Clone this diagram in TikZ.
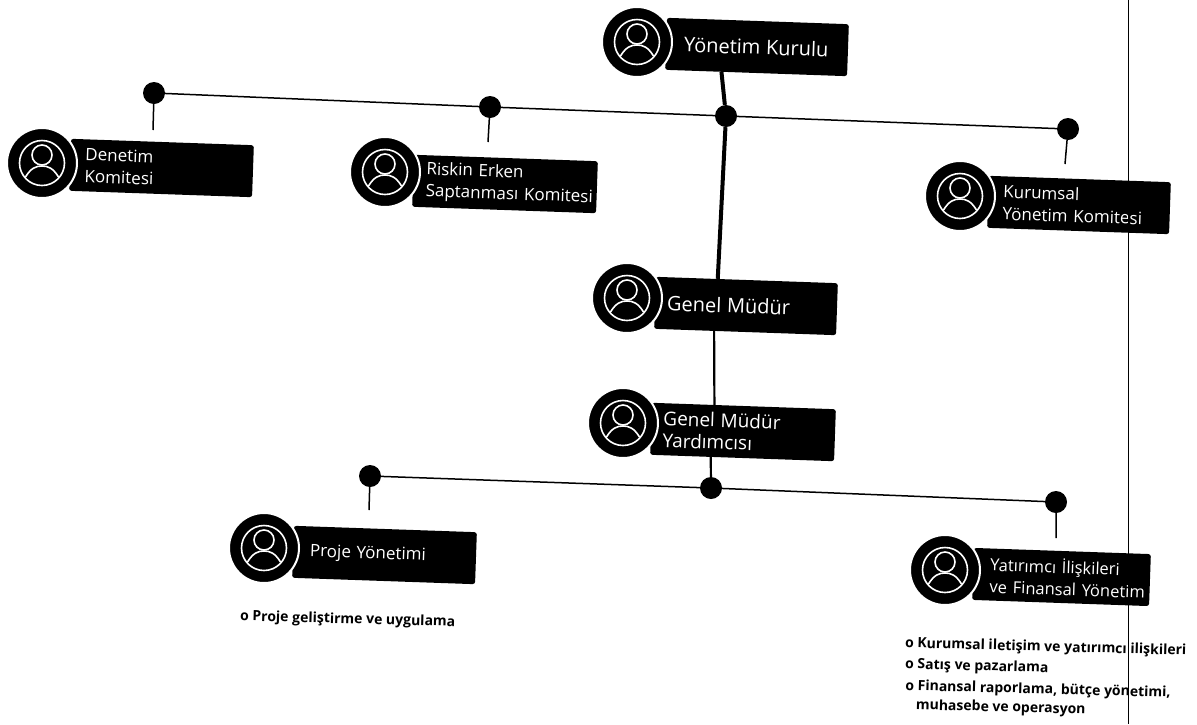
\documentclass[tikz,border=0pt]{standalone}
\usepackage{fontspec}
\setmainfont{Open Sans}
\usetikzlibrary{calc}
\tikzset{
  barbox/.style={fill=black,text=white,rounded corners=2.5pt,rotate=-2,minimum height=52pt,inner xsep=0pt,inner ysep=0pt,align=left,font=\fontsize{17}{22}\selectfont},
  badge/.style={circle,fill=black,draw=white,line width=2pt,minimum size=70pt,inner sep=0pt},
  ring/.style={draw=white,line width=1.6pt},
  junction/.style={circle,fill=black,minimum size=22pt,inner sep=0pt},
  thinlink/.style={draw=black,line width=1.5pt},
  midlink/.style={draw=black,line width=2.2pt},
  heavylink/.style={draw=black,line width=4pt},
  note/.style={anchor=west,font=\bfseries\fontsize{14}{19}\selectfont,rotate=-1.5,align=left,inner sep=0pt},
}
% id, badge centre, bar left, bar right, bar centre y, text
\newcommand{\orgcard}[7]{%
  \pgfmathsetmacro{\barw}{#5-#4}\pgfmathsetmacro{\barx}{(#5+#4)/2}\pgfmathsetmacro{\txtw}{#5-#4-24}%
  \node[barbox,minimum width=\barw pt,text width=\txtw pt] (#1bar) at (\barx,#6) {#7};
  \node[badge] (#1) at (#2,#3) {};
  \draw[ring] (#1.center) circle[radius=22.5pt];
  \draw[ring] ($(#1.center)+(0,-8)$) circle[radius=10pt];
  \draw[ring] ($(#1.center)+(-16.5,14)$) .. controls ($(#1.center)+(-11,5)$) and ($(#1.center)+(-6,3)$) .. ($(#1.center)+(0,3)$) .. controls ($(#1.center)+(6,3)$) and ($(#1.center)+(11,5)$) .. ($(#1.center)+(16.5,14)$);
}
\begin{document}
\begin{tikzpicture}[x=1pt,y=-1pt]
\useasboundingbox (0,0) rectangle (1197,724);
\orgcard{kurul}{637}{42}{666}{848}{47}{\fontsize{20}{24}\selectfont\hspace{6pt}Yönetim Kurulu}
\orgcard{denetim}{42}{163}{70}{253}{168}{\hspace{3pt}Denetim\\\hspace{3pt}Komitesi}
\orgcard{risk}{385}{172}{413}{597}{184}{\fontsize{17}{24}\selectfont\mbox{\hspace{1pt}Riskin Erken}\\\mbox{\hspace{1pt}Saptanması Komitesi}}
\orgcard{kurumsal}{960}{196}{988}{1170}{205}{\hspace{3pt}Kurumsal\\\hspace{3pt}Yönetim Komitesi}
\orgcard{genel}{627}{298}{655}{837}{306}{\fontsize{20}{24}\selectfont Genel Müdür}
\orgcard{yardimci}{623}{423}{651}{835}{432}{\fontsize{19}{25}\selectfont Genel Müdür\\Yardımcısı}
\orgcard{proje}{264}{548}{293}{476}{555}{\hspace{5pt}Proje Yönetimi}
\orgcard{yatirimci}{945}{570}{973}{1150}{577}{\fontsize{16.5}{24}\selectfont\mbox{\hspace{5pt}Yatırımcı İlişkileri}\\\mbox{\hspace{5pt}ve Finansal Yönetim}}
% junctions
\node[junction] (j1) at (154,93) {};
\node[junction] (j2) at (490,107) {};
\node[junction] (j3) at (726,116) {};
\node[junction] (j4) at (1068,129) {};
\node[junction] (j5) at (370,476) {};
\node[junction] (j6) at (711,488) {};
\node[junction] (j7) at (1056,502) {};
% free stem ends
\coordinate (e1) at (153,130);
\coordinate (e2) at (488,142);
\coordinate (e4) at (1065,164);
\coordinate (e5) at (369,510);
\coordinate (e7) at (1056,538);
% connectors
\path[thinlink] (j1) -- (j2) (j2) -- (j3) (j3) -- (j4) (j5) -- (j6) (j6) -- (j7);
\path[thinlink] (j1) -- (e1) (j2) -- (e2) (j4) -- (e4) (j5) -- (e5) (j7) -- (e7);
\path[heavylink] ($(kurulbar.south west)!0.31!(kurulbar.south east)$) -- (j3);
\path[heavylink] (j3) -- ($(genelbar.north west)!0.34!(genelbar.north east)$);
\path[midlink] ($(genelbar.south west)!0.33!(genelbar.south east)$) -- ($(yardimcibar.north west)!0.34!(yardimcibar.north east)$);
\path[midlink] ($(yardimcibar.south west)!0.33!(yardimcibar.south east)$) -- (j6);
% notes
\node[note] (n1) at (240,617) {o Proje geliştirme ve uygulama};
\node[note] (n2) at (905,644) {o Kurumsal iletişim ve yatırımcı ilişkileri};
\node[note] (n3) at (905,665) {o Satış ve pazarlama};
\node[note] (n4) at (905,696) {o Finansal raporlama, bütçe yönetimi,\\\hspace{11pt}muhasebe ve operasyon};
% page edge rule
\coordinate (r1) at (1128,0);
\coordinate (r2) at (1128,724);
\draw[black,line width=1pt] (r1) -- (r2);
\end{tikzpicture}
\end{document}
